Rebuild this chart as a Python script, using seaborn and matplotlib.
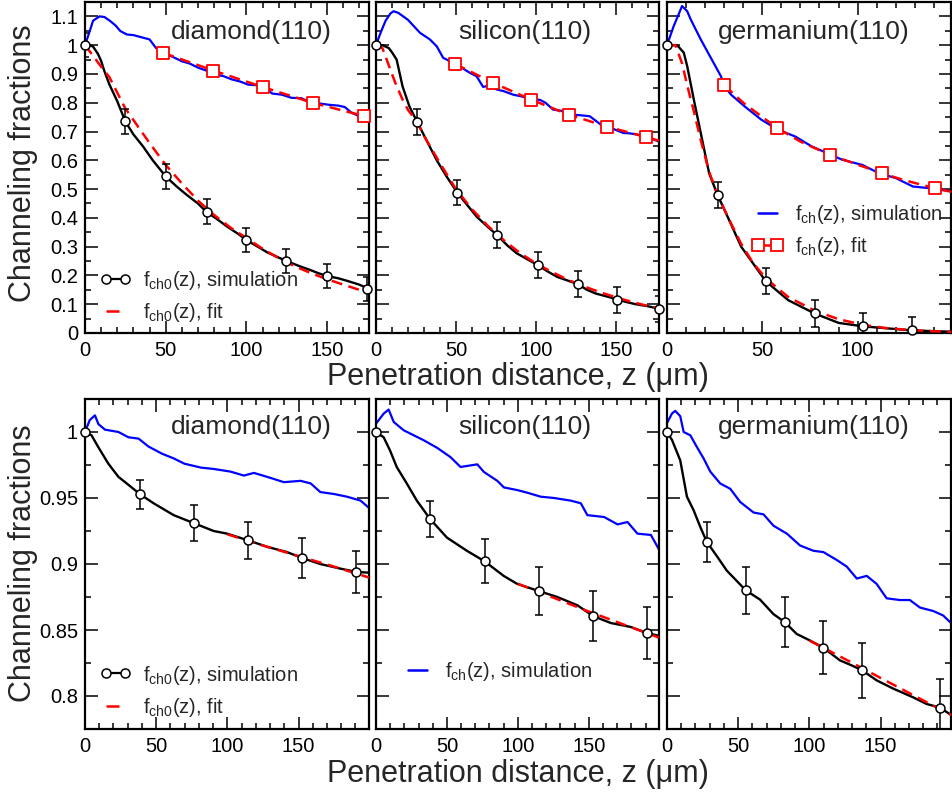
import matplotlib
matplotlib.use("Agg")
import matplotlib.pyplot as plt
import seaborn as sns
from matplotlib.lines import Line2D
from matplotlib.ticker import MultipleLocator, FuncFormatter

# ---------------- data ----------------
titles = ["diamond(110)", "silicon(110)", "germanium(110)"]
ylabel = "Channeling fractions"
xlabel = "Penetration distance, z (\u03bcm)"

# ---- top row: diamond ----
dia_top_ch_z = [0, 3, 5, 9, 12, 15.6, 19, 21.9, 26, 30, 36, 40, 44, 48, 51, 56, 60, 65, 70, 75, 81, 86, 91,
                96, 101, 106, 110, 113, 116, 122, 128, 134, 140, 146, 151, 157, 161, 165, 170, 176]
dia_top_ch_f = [1.0, 1.05, 1.085, 1.1, 1.098, 1.084, 1.068, 1.049, 1.037, 1.035, 1.026, 1.02, 0.99, 0.98,
                0.968, 0.955, 0.944, 0.936, 0.922, 0.912, 0.898, 0.892, 0.881, 0.874, 0.863, 0.861, 0.852,
                0.845, 0.832, 0.828, 0.817, 0.816, 0.8, 0.797, 0.793, 0.79, 0.785, 0.766, 0.753, 0.757]
dia_top_ch0_z = [0, 3, 5, 8, 10, 12, 15, 20, 25, 30, 36, 42, 50, 57, 63, 70, 75, 82, 88, 95, 100, 107, 113,
                 120, 125, 133, 140, 145, 150, 157, 162, 170, 176]
dia_top_ch0_f = [1.0, 1.0, 0.995, 0.97, 0.945, 0.91, 0.865, 0.805, 0.735, 0.69, 0.648, 0.6, 0.544, 0.508,
                 0.48, 0.45, 0.422, 0.395, 0.37, 0.344, 0.323, 0.3, 0.28, 0.262, 0.25, 0.232, 0.218, 0.207,
                 0.198, 0.19, 0.182, 0.168, 0.153]
dia_top_pts_z = [0, 25, 50.4, 75.4, 100, 124.5, 150, 175]
dia_top_pts_f = [1.0, 0.735, 0.544, 0.422, 0.323, 0.25, 0.198, 0.153]
dia_top_pts_e = [0.042, 0.042, 0.042, 0.042, 0.042, 0.042, 0.042, 0.042]
dia_top_fit0_z = [0, 5, 10, 15, 20, 25, 30, 40, 50, 60, 70, 80, 90, 100, 110, 120, 130, 140, 150, 160, 170, 176]
dia_top_fit0_f = [1.0, 0.963, 0.925, 0.89, 0.835, 0.78, 0.74, 0.66, 0.584, 0.52, 0.46, 0.41, 0.367, 0.33,
                  0.293, 0.26, 0.232, 0.208, 0.187, 0.168, 0.15, 0.14]
dia_top_fit_z = [48.5, 79.5, 110.5, 141.5, 173, 176]
dia_top_fit_f = [0.973, 0.912, 0.854, 0.799, 0.754, 0.75]
dia_top_sq_z = [48.5, 79.5, 110.5, 141.5, 173]
dia_top_sq_f = [0.973, 0.912, 0.854, 0.799, 0.754]

# ---- top row: silicon ----
si_top_ch_z = [0, 3, 6, 9, 11, 14, 17, 20, 23, 27.5, 33.7, 38, 42, 46, 49.4, 54, 58.7, 62.9, 67, 71, 75.4,
               80, 85.8, 91, 96.2, 102.5, 106, 110.8, 116, 121, 127, 133.7, 138, 142, 148, 154.6, 158,
               162.9, 168, 172, 177]
si_top_ch_f = [1.0, 1.045, 1.085, 1.11, 1.118, 1.112, 1.1, 1.088, 1.07, 1.043, 1.02, 0.996, 0.956, 0.945,
               0.935, 0.92, 0.904, 0.892, 0.855, 0.86, 0.846, 0.84, 0.828, 0.822, 0.813, 0.81, 0.8, 0.776,
               0.772, 0.759, 0.757, 0.753, 0.735, 0.718, 0.71, 0.695, 0.694, 0.69, 0.682, 0.676, 0.665]
si_top_ch0_z = [0, 4, 8, 10, 12.9, 16.6, 20.9, 25.8, 32, 38, 44, 50.8, 57, 63, 70, 75.8, 82, 88, 95, 101.5,
                107, 113.3, 120, 126.5, 132, 137.5, 145, 151, 157, 162.5, 170, 177]
si_top_ch0_f = [1.0, 1.0, 0.99, 0.975, 0.95, 0.857, 0.787, 0.733, 0.665, 0.6, 0.545, 0.488, 0.445, 0.404,
                0.368, 0.34, 0.305, 0.277, 0.255, 0.235, 0.215, 0.195, 0.182, 0.169, 0.15, 0.137, 0.126,
                0.116, 0.107, 0.1, 0.093, 0.084]
si_top_pts_z = [0, 25.8, 50.8, 75.8, 101.5, 126.5, 151, 176.7]
si_top_pts_f = [1.0, 0.733, 0.488, 0.34, 0.235, 0.169, 0.116, 0.084]
si_top_pts_e = [0.0, 0.045, 0.045, 0.045, 0.045, 0.045, 0.045, 0.045]
si_top_fit0_z = [0, 4, 8, 12, 16.6, 20, 25.8, 30, 40, 50, 60, 70, 80, 90, 100, 110, 120, 130, 140, 150,
                 160, 170, 177]
si_top_fit0_f = [1.0, 0.99, 0.93, 0.87, 0.811, 0.775, 0.733, 0.685, 0.59, 0.5, 0.43, 0.372, 0.322, 0.278,
                 0.242, 0.212, 0.185, 0.162, 0.142, 0.124, 0.108, 0.094, 0.085]
si_top_fit_z = [49.4, 73.3, 97, 120.8, 144.6, 168.8, 177]
si_top_fit_f = [0.935, 0.869, 0.811, 0.758, 0.717, 0.681, 0.668]
si_top_sq_z = [49.4, 73.3, 97, 120.8, 144.6, 168.8]
si_top_sq_f = [0.935, 0.869, 0.811, 0.758, 0.717, 0.681]

# ---- top row: germanium ----
ge_top_ch_z = [0, 3.5, 7.9, 10.6, 12.4, 17.7, 23, 28.3, 30, 33.6, 40.8, 49.5, 58.3, 67.2, 76, 84, 91.9,
               102.5, 111.3, 120.1, 129, 137.8, 151]
ge_top_ch_f = [1.0, 1.066, 1.136, 1.118, 1.09, 1.02, 0.956, 0.892, 0.86, 0.828, 0.787, 0.741, 0.706, 0.683,
               0.648, 0.625, 0.602, 0.584, 0.555, 0.538, 0.509, 0.503, 0.491]
ge_top_ch0_z = [0, 5.3, 8.8, 10.6, 14.1, 17.7, 22.1, 26.5, 31.8, 38.9, 51.8, 63.6, 77.4, 90.1, 103, 128.6, 151]
ge_top_ch0_f = [1.0, 1.0, 0.974, 0.927, 0.81, 0.695, 0.555, 0.48, 0.404, 0.3, 0.18, 0.114, 0.068, 0.035,
                0.023, 0.009, 0.004]
ge_top_pts_z = [0, 26.5, 51.8, 77.4, 103, 128.6]
ge_top_pts_f = [1.0, 0.48, 0.18, 0.068, 0.023, 0.009]
ge_top_pts_e = [0.0, 0.046, 0.046, 0.046, 0.046, 0.046]
ge_top_fit0_z = [0, 4.4, 8, 10.6, 14.1, 17.7, 22.1, 26.5, 31.8, 38.9, 45, 51.8, 63.6, 77.4, 90, 103, 115,
                 128.6, 140, 151]
ge_top_fit0_f = [1.0, 1.0, 0.935, 0.86, 0.77, 0.67, 0.56, 0.48, 0.405, 0.31, 0.245, 0.19, 0.125, 0.078,
                 0.048, 0.028, 0.017, 0.01, 0.006, 0.004]
ge_top_fit_z = [30.1, 40, 57.8, 70, 85.4, 100, 112.7, 125, 140.5, 151]
ge_top_fit_f = [0.86, 0.8, 0.712, 0.665, 0.619, 0.585, 0.555, 0.53, 0.503, 0.488]
ge_top_sq_z = [30.1, 57.8, 85.4, 112.7, 140.5]
ge_top_sq_f = [0.86, 0.712, 0.619, 0.555, 0.503]

# ---- bottom row: diamond ----
dia_bot_ch_z = [0, 3.3, 7.0, 9.4, 14, 23.5, 30.5, 37.6, 44.6, 54, 62.3, 69.8, 81.6, 90.4, 102.2, 111.6,
                118.7, 128, 139.7, 151.5, 158.6, 165.3, 175, 184, 193.6, 200]
dia_bot_ch_f = [1.0, 1.009, 1.0126, 1.006, 1.0018, 1.0, 0.996, 0.995, 0.989, 0.9836, 0.980, 0.976, 0.973,
                0.972, 0.970, 0.967, 0.969, 0.966, 0.962, 0.963, 0.961, 0.9545, 0.953, 0.951, 0.948, 0.942]
dia_bot_ch0_z = [0, 4.6, 9.3, 16.4, 23.5, 30.5, 38.7, 48.2, 62.3, 76.3, 90.4, 99.8, 114.3, 128, 142, 152.6,
                 165.3, 179.4, 190.6, 200]
dia_bot_ch0_f = [1.0, 0.9975, 0.9886, 0.976, 0.966, 0.96, 0.9528, 0.946, 0.937, 0.931, 0.925, 0.923, 0.918,
                 0.913, 0.909, 0.9045, 0.900, 0.8965, 0.894, 0.8934]
dia_bot_pts_z = [0, 38.7, 76.3, 114.3, 152.6, 190.6]
dia_bot_pts_f = [1.0, 0.9528, 0.931, 0.918, 0.9045, 0.894]
dia_bot_pts_e = [0.0, 0.011, 0.0134, 0.014, 0.0154, 0.016]
dia_bot_fit0_z = [100, 125, 150, 175, 200]
dia_bot_fit0_f = [0.9225, 0.914, 0.906, 0.898, 0.8896]

# ---- bottom row: silicon ----
si_bot_ch_z = [0, 5.4, 8.9, 12.5, 19.5, 26.6, 33.7, 43.1, 52.5, 59.6, 66.7, 71.4, 76.1, 85.5, 90.2, 99.6,
               106.7, 116.1, 125.5, 137.3, 144.4, 149, 160.8, 170.3, 177.3, 184.3, 193.8, 200]
si_bot_ch_f = [1.0063, 1.0139, 1.017, 1.0076, 1.0013, 0.9975, 0.9937, 0.988, 0.981, 0.9735, 0.9747, 0.9755,
               0.9697, 0.963, 0.958, 0.956, 0.954, 0.951, 0.950, 0.948, 0.946, 0.937, 0.9356, 0.930, 0.9318,
               0.923, 0.922, 0.910]
si_bot_ch0_z = [0, 5.4, 9.9, 14.6, 21.7, 28.8, 38.2, 50, 64.1, 76.6, 90, 99.4, 114.8, 127.8, 142, 153, 165.5,
                179.6, 190.9, 200]
si_bot_ch0_f = [1.0, 0.996, 0.986, 0.9735, 0.961, 0.948, 0.934, 0.920, 0.910, 0.902, 0.891, 0.885, 0.8795,
                0.875, 0.8687, 0.8606, 0.8553, 0.8523, 0.8477, 0.8455]
si_bot_pts_z = [0, 38.2, 76.6, 114.8, 153, 190.9]
si_bot_pts_f = [1.0, 0.9338, 0.902, 0.8795, 0.8606, 0.8477]
si_bot_pts_e = [0.0, 0.0136, 0.0167, 0.018, 0.019, 0.02]
si_bot_fit0_z = [100, 125, 150, 175, 200]
si_bot_fit0_f = [0.885, 0.8745, 0.864, 0.854, 0.844]

# ---- bottom row: germanium ----
ge_bot_ch_z = [0, 3.5, 5.8, 9.3, 11.7, 16.4, 21, 25.7, 30.4, 37.4, 44.4, 51.4, 60.8, 67.8, 74.8, 84.2, 93.5,
               102.9, 109.9, 119.3, 126.3, 133.3, 140.3, 147.2, 154.3, 163.6, 170.6, 177.7, 187, 194, 200]
ge_bot_ch_f = [1.0068, 1.014, 1.016, 1.012, 1.0, 0.9975, 0.9886, 0.980, 0.970, 0.961, 0.957, 0.947, 0.939,
               0.9376, 0.929, 0.923, 0.914, 0.910, 0.909, 0.903, 0.898, 0.889, 0.891, 0.885, 0.874, 0.8727,
               0.8727, 0.867, 0.8644, 0.861, 0.8548]
ge_bot_ch0_z = [0, 3.5, 9.3, 14, 18.7, 23.4, 28, 35, 42, 55.4, 65.4, 74.8, 82.7, 91.1, 100.5, 109.8, 121.5,
                129.7, 137.2, 147.2, 158.9, 172.9, 182.3, 191.6, 200]
ge_bot_ch0_f = [1.0, 0.994, 0.9785, 0.951, 0.9407, 0.928, 0.9167, 0.906, 0.895, 0.880, 0.873, 0.862, 0.856,
                0.847, 0.842, 0.8366, 0.827, 0.8232, 0.8194, 0.8119, 0.8056, 0.799, 0.794, 0.7912, 0.7854]
ge_bot_pts_z = [0, 28, 55.4, 82.7, 109.8, 137.2, 191.6]
ge_bot_pts_f = [1.0, 0.9167, 0.880, 0.856, 0.8366, 0.8194, 0.7912]
ge_bot_pts_e = [0.0, 0.015, 0.018, 0.019, 0.020, 0.021, 0.022]
ge_bot_fit0_z = [100, 125, 150, 175, 200]
ge_bot_fit0_f = [0.842, 0.828, 0.8137, 0.7995, 0.7854]

# ---------------- style ----------------
sns.set_theme(style="ticks")
plt.rcParams['font.family'] = ['Liberation Sans', 'DejaVu Sans']
plt.rcParams['mathtext.default'] = 'regular'

BLUE = "#0000ff"
RED = "#ff0000"
BLACK = "#000000"
DASH = (0, (4.4, 2.6))
LEG_DASH = (0, (5.2, 2.6))

fig = plt.figure(figsize=(9.52, 7.92), dpi=100)
W, H = 952.0, 792.0
cols = [(85, 284), (376, 283), (667, 284)]
rows = [(2, 333), (399, 729)]


def make_ax(col, row):
    l, w = cols[col]
    t, b = rows[row]
    return fig.add_axes([l / W, 1 - b / H, w / W, (b - t) / H])


fmt = FuncFormatter(lambda v, p: f"{v:g}")


def style_ax(ax, xmax, row, first):
    ax.set_xlim(0, xmax)
    if row == 0:
        ax.set_ylim(0, 1.15)
        ax.yaxis.set_major_locator(MultipleLocator(0.1))
        ax.yaxis.set_minor_locator(MultipleLocator(0.05))
    else:
        ax.set_ylim(0.775, 1.025)
        ax.yaxis.set_major_locator(MultipleLocator(0.05))
        ax.yaxis.set_minor_locator(MultipleLocator(0.025))
    ax.xaxis.set_major_locator(MultipleLocator(50))
    ax.xaxis.set_minor_locator(MultipleLocator(10))
    ax.xaxis.set_major_formatter(fmt)
    ax.yaxis.set_major_formatter(fmt)
    ax.tick_params(which='both', direction='in', top=True, right=True, width=1.1,
                   labelsize=14.5, colors=BLACK)
    ax.tick_params(axis='x', pad=6)
    ax.tick_params(axis='y', pad=5)
    ax.tick_params(which='major', length=9)
    ax.tick_params(which='minor', length=4.5)
    ax.tick_params(labelleft=first)
    for s in ax.spines.values():
        s.set_linewidth(1.6)
        s.set_color(BLACK)
    ax.set_xlabel("")
    ax.set_ylabel("")


def line(ax, z, f, color, lw=1.6, dashed=False, zorder=2):
    sns.lineplot(x=z, y=f, ax=ax, color=color, lw=lw, sort=False, estimator=None, zorder=zorder)
    ln = ax.get_lines()[-1]
    if dashed:
        ln.set_linestyle(DASH)
        ln.set_dash_capstyle('butt')


def points(ax, z, f, e):
    ax.errorbar(z, f, yerr=e, fmt='none', ecolor=BLACK, elinewidth=1.1, capsize=3.2, capthick=1.1, zorder=4)
    sns.scatterplot(x=z, y=f, ax=ax, marker='o', s=42, color='white', edgecolor=BLACK, linewidth=1.1,
                    zorder=6, clip_on=False)


def squares(ax, z, f):
    sns.scatterplot(x=z, y=f, ax=ax, marker='s', s=72, color='white', edgecolor=RED, linewidth=1.3,
                    zorder=6, clip_on=False)


top_sets = [
    (dia_top_ch_z, dia_top_ch_f, dia_top_ch0_z, dia_top_ch0_f, dia_top_pts_z, dia_top_pts_f, dia_top_pts_e,
     dia_top_fit0_z, dia_top_fit0_f, dia_top_fit_z, dia_top_fit_f, dia_top_sq_z, dia_top_sq_f, 176),
    (si_top_ch_z, si_top_ch_f, si_top_ch0_z, si_top_ch0_f, si_top_pts_z, si_top_pts_f, si_top_pts_e,
     si_top_fit0_z, si_top_fit0_f, si_top_fit_z, si_top_fit_f, si_top_sq_z, si_top_sq_f, 177),
    (ge_top_ch_z, ge_top_ch_f, ge_top_ch0_z, ge_top_ch0_f, ge_top_pts_z, ge_top_pts_f, ge_top_pts_e,
     ge_top_fit0_z, ge_top_fit0_f, ge_top_fit_z, ge_top_fit_f, ge_top_sq_z, ge_top_sq_f, 149),
]
bot_sets = [
    (dia_bot_ch_z, dia_bot_ch_f, dia_bot_ch0_z, dia_bot_ch0_f, dia_bot_pts_z, dia_bot_pts_f, dia_bot_pts_e,
     dia_bot_fit0_z, dia_bot_fit0_f),
    (si_bot_ch_z, si_bot_ch_f, si_bot_ch0_z, si_bot_ch0_f, si_bot_pts_z, si_bot_pts_f, si_bot_pts_e,
     si_bot_fit0_z, si_bot_fit0_f),
    (ge_bot_ch_z, ge_bot_ch_f, ge_bot_ch0_z, ge_bot_ch0_f, ge_bot_pts_z, ge_bot_pts_f, ge_bot_pts_e,
     ge_bot_fit0_z, ge_bot_fit0_f),
]
title_x = [0.587, 0.526, 0.518]

lab_sim0 = r"f$_{ch0}$(z), simulation"
lab_fit0 = r"f$_{ch0}$(z), fit"
lab_sim = r"f$_{ch}$(z), simulation"
lab_fit = r"f$_{ch}$(z), fit"

h_sim0 = Line2D([], [], color=BLACK, lw=1.6, marker='o', ms=6.5, mfc='white', mec=BLACK, mew=1.1)
h_fit0 = Line2D([], [], color=RED, lw=1.8, ls=LEG_DASH, dash_capstyle='butt')
h_sim = Line2D([], [], color=BLUE, lw=1.8)
h_fit = Line2D([], [], color=RED, lw=1.8, ls=LEG_DASH, dash_capstyle='butt', marker='s', ms=8.5,
               mfc='white', mec=RED, mew=1.3)

leg_kw = dict(frameon=False, fontsize=14.5, handlelength=1.55, handletextpad=0.6, labelspacing=0.45,
              borderpad=0, borderaxespad=0, numpoints=2, loc='center left')

for i, d in enumerate(top_sets):
    (chz, chf, c0z, c0f, pz, pf, pe, f0z, f0f, fz, ff, sz, sf, xmax) = d
    ax = make_ax(i, 0)
    line(ax, chz, chf, BLUE, lw=1.6, zorder=2)
    line(ax, c0z, c0f, BLACK, lw=1.7, zorder=3)
    line(ax, f0z, f0f, RED, lw=1.8, dashed=True, zorder=3.5)
    line(ax, fz, ff, RED, lw=1.8, dashed=True, zorder=3.5)
    points(ax, pz, pf, pe)
    squares(ax, sz, sf)
    style_ax(ax, xmax, 0, i == 0)
    ax.text(title_x[i], 0.91, titles[i], transform=ax.transAxes, ha='center', va='center', fontsize=19)
    if i == 0:
        ax.legend([h_sim0, h_fit0], [lab_sim0, lab_fit0], bbox_to_anchor=(0.053, 0.11), **leg_kw)
    if i == 2:
        ax.legend([h_sim, h_fit], [lab_sim, lab_fit], bbox_to_anchor=(0.298, 0.309), **leg_kw)

for i, d in enumerate(bot_sets):
    (chz, chf, c0z, c0f, pz, pf, pe, f0z, f0f) = d
    ax = make_ax(i, 1)
    line(ax, chz, chf, BLUE, lw=1.6, zorder=2)
    line(ax, c0z, c0f, BLACK, lw=1.7, zorder=3)
    line(ax, f0z, f0f, RED, lw=1.8, dashed=True, zorder=3.5)
    points(ax, pz, pf, pe)
    style_ax(ax, 199.5, 1, i == 0)
    ax.text(title_x[i], 0.916, titles[i], transform=ax.transAxes, ha='center', va='center', fontsize=19)
    if i == 0:
        ax.legend([h_sim0, h_fit0], [lab_sim0, lab_fit0], bbox_to_anchor=(0.053, 0.115), **leg_kw)
    if i == 1:
        ax.legend([h_sim], [lab_sim], bbox_to_anchor=(0.091, 0.174), **leg_kw)

fig.text(23 / W, 1 - 163 / H, ylabel, rotation=90, ha='center', va='center', fontsize=22)
fig.text(23 / W, 1 - 563 / H, ylabel, rotation=90, ha='center', va='center', fontsize=22)
fig.text(518 / W, 1 - 385 / H, xlabel, ha='center', va='baseline', fontsize=22)
fig.text(518 / W, 1 - 782 / H, xlabel, ha='center', va='baseline', fontsize=22)

fig.savefig("out.png", dpi=100, facecolor='white')
